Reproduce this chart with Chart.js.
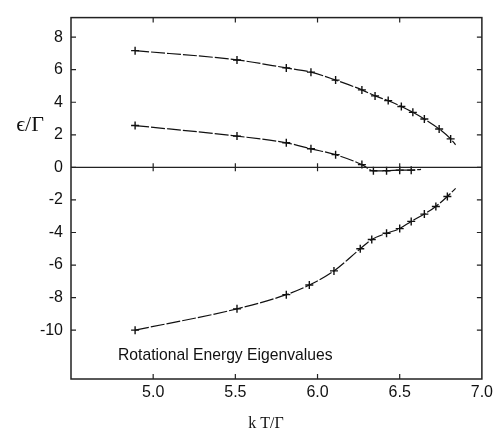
<!DOCTYPE html>
<html>
<head>
<meta charset="utf-8">
<script src="https://cdn.jsdelivr.net/npm/chart.js@4.4.0/dist/chart.umd.min.js"></script>
<style>
  body { margin: 0; background: #fff; }
  #wrap { width: 497px; height: 432px; }
</style>
</head>
<body>
<div id="wrap"><canvas id="eigenChart" width="497" height="432"></canvas></div>
<script>
// upper level (last point is just where the curve ends, no marker)
const tempUpper = [4.89, 5.51, 5.81, 5.96, 6.11, 6.27, 6.35, 6.43, 6.51, 6.58, 6.65, 6.74, 6.81, 6.84];
const energyUpper = [7.17, 6.60, 6.11, 5.85, 5.36, 4.76, 4.39, 4.10, 3.74, 3.38, 2.97, 2.36, 1.75, 1.39];

// middle level
const tempMiddle = [4.89, 5.51, 5.81, 5.96, 6.11, 6.27, 6.34, 6.42, 6.50, 6.57, 6.63];
const energyMiddle = [2.57, 1.92, 1.51, 1.14, 0.78, 0.17, -0.21, -0.21, -0.17, -0.17, -0.12];

// lower level
const tempLower = [4.89, 5.51, 5.81, 5.95, 6.10, 6.26, 6.33, 6.42, 6.50, 6.57, 6.65, 6.72, 6.79, 6.84];
const energyLower = [-10.0, -8.69, -7.82, -7.23, -6.36, -5.00, -4.43, -4.05, -3.76, -3.32, -2.87, -2.40, -1.79, -1.29];

const xTicks = [5.0, 5.5, 6.0, 6.5, 7.0];
const yTicks = [-10, -8, -6, -4, -2, 0, 2, 4, 6, 8];

const toPoints = (xs, ys) => xs.map((x, i) => ({ x: x, y: ys[i] }));

function curve(label, xs, ys) {
  return {
    label: label,
    data: toPoints(xs, ys),
    borderColor: '#111',
    borderWidth: 1.2,
    borderDash: [14, 2],
    cubicInterpolationMode: 'monotone',
    pointStyle: 'cross',
    pointRadius: ctx => ctx.dataIndex === ctx.dataset.data.length - 1 ? 0 : 4,
    pointBorderWidth: 1.4,
    pointBorderColor: '#111',
    fill: false
  };
}

// frame, inward ticks, zero line and texts
const framePlugin = {
  id: 'frame',
  afterDraw(chart) {
    const { ctx, chartArea: a, scales } = chart;
    const xs = scales.x, ys = scales.y;
    ctx.save();
    ctx.strokeStyle = '#222';
    ctx.lineWidth = 1.5;
    ctx.strokeRect(a.left, a.top, a.right - a.left, a.bottom - a.top);

    ctx.lineWidth = 1.2;
    ctx.beginPath();
    xTicks.forEach(v => {
      if (v >= 7.0) return;
      const px = xs.getPixelForValue(v);
      ctx.moveTo(px, a.bottom); ctx.lineTo(px, a.bottom - 5);
      ctx.moveTo(px, a.top); ctx.lineTo(px, a.top + 5);
    });
    yTicks.forEach(v => {
      const py = ys.getPixelForValue(v);
      ctx.moveTo(a.left, py); ctx.lineTo(a.left + 5, py);
      ctx.moveTo(a.right, py); ctx.lineTo(a.right - 5, py);
    });
    ctx.stroke();

    // zero line with crossing ticks
    const y0 = ys.getPixelForValue(0);
    ctx.beginPath();
    ctx.moveTo(a.left, y0); ctx.lineTo(a.right, y0);
    xTicks.forEach(v => {
      if (v >= 7.0) return;
      const px = xs.getPixelForValue(v);
      ctx.moveTo(px, y0 - 4); ctx.lineTo(px, y0 + 4);
    });
    ctx.stroke();

    ctx.fillStyle = '#111';
    ctx.textAlign = 'center';
    ctx.textBaseline = 'middle';
    ctx.font = '22px "Liberation Serif"';
    ctx.fillText('ϵ/Γ', 30, 125);
    ctx.font = '16px "Liberation Serif"';
    ctx.fillText('k T/Γ', 266, 424);
    ctx.textAlign = 'left';
    ctx.font = '15.7px "Liberation Sans"';
    ctx.fillText('Rotational Energy Eigenvalues', 118, 356);
    ctx.restore();
  }
};

const config = {
  type: 'line',
  data: {
    datasets: [
      curve('upper', tempUpper, energyUpper),
      curve('middle', tempMiddle, energyMiddle),
      curve('lower', tempLower, energyLower)
    ]
  },
  options: {
    responsive: false,
    animation: false,
    layout: { padding: { top: 14, right: 9, left: 0, bottom: 0 } },
    plugins: {
      legend: { display: false },
      tooltip: { enabled: false }
    },
    scales: {
      x: {
        type: 'linear',
        min: 4.5,
        max: 7.0,
        afterBuildTicks: s => { s.ticks = xTicks.map(v => ({ value: v })); },
        afterFit: s => { s.height = 53; },
        grid: { display: false, drawTicks: false },
        border: { display: false },
        ticks: {
          padding: 4,
          color: '#111',
          font: { family: 'Liberation Sans', size: 16 },
          callback: v => v.toFixed(1)
        }
      },
      y: {
        type: 'linear',
        min: -13,
        max: 9.2,
        afterBuildTicks: s => { s.ticks = yTicks.map(v => ({ value: v })); },
        afterFit: s => { s.width = 71; },
        grid: { display: false, drawTicks: false },
        border: { display: false },
        ticks: {
          padding: 8,
          color: '#111',
          font: { family: 'Liberation Sans', size: 16 },
          callback: v => String(v)
        }
      }
    }
  },
  plugins: [framePlugin]
};

const eigenChart = new Chart(document.getElementById('eigenChart'), config);
</script>
</body>
</html>
